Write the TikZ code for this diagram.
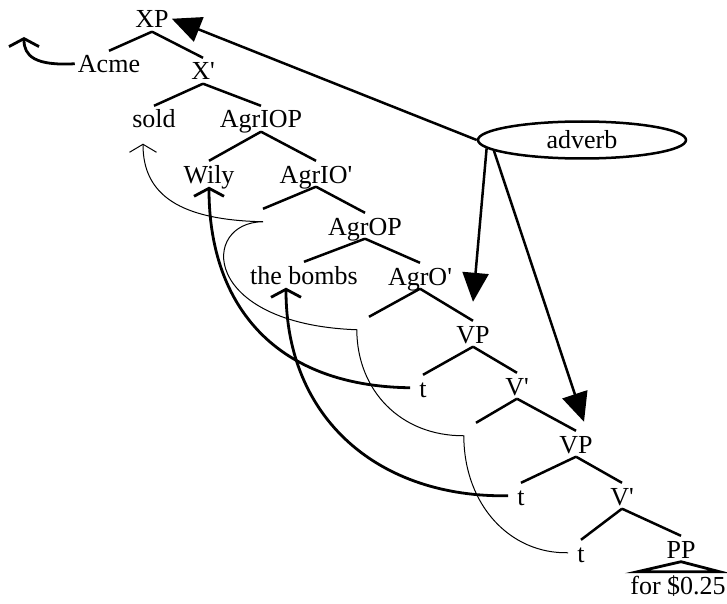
\documentclass[tikz,border=0pt]{standalone}
\usepackage{fontspec}
\setmainfont{Liberation Serif}
\usetikzlibrary{arrows.meta,shapes.geometric}

\tikzstyle{cat}=[anchor=base,inner xsep=3pt,inner ysep=0pt,text height=22pt,text depth=3.5pt,font=\fontsize{26}{30}\selectfont]
\tikzstyle{trace}=[cat,inner xsep=9pt]
\tikzstyle{gap}=[cat,minimum width=24pt]
\tikzstyle{branch}=[draw,line width=2.5pt]
\tikzstyle{move}=[draw,line width=2.8pt,-{Straight Barb[length=8pt,width=30pt]}]
\tikzstyle{head move}=[draw,line width=1pt,-{Straight Barb[length=8pt,width=27pt]}]
\tikzstyle{adjoin}=[draw,line width=2.5pt,-{Triangle[length=29pt,width=26pt]}]

\begin{document}
\begin{tikzpicture}[x=1pt,y=-1pt]
    \useasboundingbox (0,0) rectangle (727,604);

     \foreach \pos/\name/\txt in {{(152,28)/xp/XP}, {(109,73)/acme/Acme},
        {(203,80)/xbar/X\textquotesingle}, {(154,128)/sold/sold},
        {(261,128)/agriop/AgrIOP}, {(209,183)/wily/Wily},
        {(316,183)/agriobar/AgrIO\textquotesingle}, {(365,235)/agrop/AgrOP},
        {(304,284)/bombs/the bombs}, {(420,285)/agrobar/AgrO\textquotesingle},
        {(473,343)/vp1/VP}, {(517,395)/vbar1/V\textquotesingle},
        {(576,453)/vp2/VP}, {(622,505)/vbar2/V\textquotesingle},
        {(681,558)/pp/PP}, {(678,594)/price/for \$0.25}}
     \node[cat] (\name) at \pos {\txt};
     % traces and empty heads
     \foreach \pos/\name in {{(423,397)/t1}, {(521,505)/t2}, {(581,562)/t3}}
     \node[trace] (\name) at \pos {t};
     \node[cat] (eio) at (263,231) {};
     \node[gap] (eo) at (369,339) {};
     \node[gap] (ev) at (476,445) {};
     \node[draw,ellipse,line width=2.5pt,minimum width=208pt,minimum height=37pt,inner sep=0pt,font=\fontsize{26}{30}\selectfont] (adverb) at (582,140) {adverb};
     \coordinate (spec) at (24,37);

     % tree
     \foreach \source/ \dest in {xp/acme, xp/xbar, xbar/sold, xbar/agriop,
        agriop/wily, agriop/agriobar, agriobar/eio, agriobar/agrop,
        agrop/bombs, agrop/agrobar, agrobar/eo, agrobar/vp1, vp1/t1,
        vp1/vbar1, vbar1/ev, vbar1/vp2, vp2/t2, vp2/vbar2, vbar2/t3, vbar2/pp}
     \path[branch] (\source.south) -- (\dest.north);
     \path[branch,line width=2.8pt] (pp.south) -- ([xshift=10pt]price.north west)
        -- ([xshift=-9pt]price.north east) -- cycle;

     % adverb positions
     \path[adjoin] (adverb.west) -- (xp.east);
     \path[adjoin] (adverb.185) -- ([yshift=19pt]vp1.north);
     \path[adjoin] (adverb.187.5) -- ([xshift=8pt,yshift=9pt]vp2.north);

     % movement
     \path[move] (acme.west) .. controls (35,66) and (24,56) .. (spec);
     \path[move] (t1.west) .. controls (270,386) and (209,300) .. (wily.south);
     \path[move] (t2.west) .. controls (380,498) and (286,420) .. ([xshift=-18pt]bombs.south);
     \path[head move] (t3.west) .. controls (510,554) and (464,505) .. (ev.west)
        .. controls (400,436) and (357,390) .. (eo.west)
        .. controls (200,324) and (200,222) .. (eio.center)
        .. controls (180,220) and (143,195) .. ([xshift=-11pt,yshift=-12pt]sold.south);
\end{tikzpicture}
\end{document}
